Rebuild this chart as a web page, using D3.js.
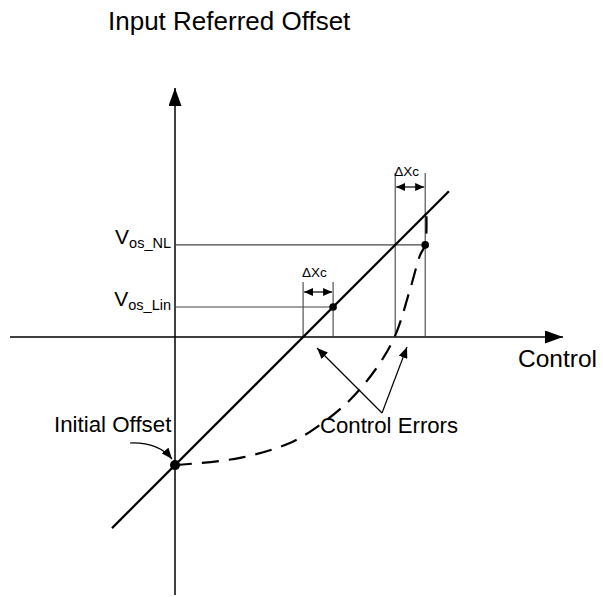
<!DOCTYPE html>
<html>
<head>
<meta charset="utf-8">
<script src="https://cdn.jsdelivr.net/npm/d3@7"></script>
<style>
  html, body { margin: 0; padding: 0; background: #fff; }
  svg { display: block; }
  text { font-family: "Liberation Sans", Arial, sans-serif; fill: #000; }
</style>
</head>
<body>
<svg id="chart" width="603" height="597"></svg>
<script>
// Offset vs. control: linear transfer line and nonlinear (dashed) transfer curve.
const xDomain = [-5.5, 13];          // control axis extent (units of ΔXc)
const yDomain = [-8.6, 8.3];         // offset axis extent

const initialOffset = -4.27;         // offset at zero control
const linearSlope = 1.0;
const linearRange = [-2.1, 9.13];    // drawn extent of the linear line

const deltaXc = 1.0;                 // control error
const vosLin = 1.0;                  // offset reached by linear line after ΔXc
const vosNL = 3.07;                  // offset of nonlinear curve

// Nonlinear transfer curve (control, offset)
const nonlinearCurve = [
  [0.00, -4.27], [2.17, -4.03], [3.83, -3.53], [4.83, -2.93],
  [5.83, -2.10], [6.67, -1.10], [7.32, 0.00], [7.83, 1.57],
  [8.17, 2.73], [8.34, 3.07], [8.38, 4.10]
];

const labels = {
  yAxis: "Input Referred Offset",
  xAxis: "Control",
  initial: "Initial Offset",
  errors: "Control Errors",
  delta: "ΔXc"
};

const svg = d3.select("#chart");
const x = d3.scaleLinear().domain(xDomain).range([10, 565]);
const y = d3.scaleLinear().domain(yDomain).range([595, 88]);

const lin = u => initialOffset + linearSlope * u;
const linInv = v => (v - initialOffset) / linearSlope;

// Arrowhead markers
const defs = svg.append("defs");
function marker(id, len, half) {
  defs.append("marker")
    .attr("id", id)
    .attr("viewBox", `0 ${-half} ${len} ${2 * half}`)
    .attr("refX", len).attr("refY", 0)
    .attr("markerWidth", len).attr("markerHeight", 2 * half)
    .attr("markerUnits", "userSpaceOnUse")
    .attr("orient", "auto-start-reverse")
    .append("path")
    .attr("d", `M0,${-half}L${len},0L0,${half}Z`)
    .attr("fill", "#000");
}
marker("axisHead", 18, 6.5);
marker("smallHead", 11, 4.5);
marker("deltaHead", 9, 4);

// Axes
svg.append("line")
  .attr("x1", x(0)).attr("x2", x(0))
  .attr("y1", y(yDomain[0])).attr("y2", y(yDomain[1]))
  .attr("stroke", "#000").attr("stroke-width", 1.5)
  .attr("marker-end", "url(#axisHead)");
svg.append("line")
  .attr("x1", x(xDomain[0])).attr("x2", x(xDomain[1]) - 2)
  .attr("y1", y(0)).attr("y2", y(0))
  .attr("stroke", "#000").attr("stroke-width", 1.5)
  .attr("marker-end", "url(#axisHead)");

// Reference lines
const xLinZero = linInv(0);
const xLinPt = xLinZero + deltaXc;
const xNLLin = linInv(vosNL);
const xNLPt = xNLLin + deltaXc;

const guides = [
  [0, vosNL, xNLPt, vosNL],
  [0, vosLin, xLinPt, vosLin],
  [xLinZero, 0, xLinZero, 1.83],
  [xLinPt, 0, xLinPt, 1.83],
  [xNLLin, 0, xNLLin, 5.47],
  [xNLPt, 0, xNLPt, 5.47]
];
svg.append("g").selectAll("line").data(guides).join("line")
  .attr("x1", d => x(d[0])).attr("y1", d => y(d[1]))
  .attr("x2", d => x(d[2])).attr("y2", d => y(d[3]))
  .attr("stroke", "#444").attr("stroke-width", 1.1);

// ΔXc double arrows
const deltaArrows = [
  { x0: xLinZero, x1: xLinPt, v: 1.5, tv: 2.0 },
  { x0: xNLLin, x1: xNLPt, v: 5.0, tv: 5.37 }
];
deltaArrows.forEach(a => {
  svg.append("line")
    .attr("x1", x(a.x0) + 1).attr("x2", x(a.x1) - 1)
    .attr("y1", y(a.v)).attr("y2", y(a.v))
    .attr("stroke", "#000").attr("stroke-width", 1.2)
    .attr("marker-start", "url(#deltaHead)")
    .attr("marker-end", "url(#deltaHead)");
  svg.append("text")
    .attr("x", x(a.x0) - 1).attr("y", y(a.tv))
    .attr("font-size", 13.5)
    .text(labels.delta);
});

// Linear transfer line
svg.append("line")
  .attr("x1", x(linearRange[0])).attr("y1", y(lin(linearRange[0])))
  .attr("x2", x(linearRange[1])).attr("y2", y(lin(linearRange[1])))
  .attr("stroke", "#000").attr("stroke-width", 2.2);

// Nonlinear transfer curve (dashed)
svg.append("path")
  .datum(nonlinearCurve)
  .attr("d", d3.line().x(d => x(d[0])).y(d => y(d[1])).curve(d3.curveCatmullRom.alpha(0.5)))
  .attr("fill", "none").attr("stroke", "#000")
  .attr("stroke-width", 2.2).attr("stroke-dasharray", "17,10");

// Points
const points = [[0, initialOffset], [xLinPt, vosLin], [xNLPt, vosNL]];
svg.append("g").selectAll("circle").data(points).join("circle")
  .attr("cx", d => x(d[0])).attr("cy", d => y(d[1]))
  .attr("r", (d, i) => i === 0 ? 5 : 3.8)
  .attr("fill", "#000");

// Axis titles
svg.append("text").attr("x", 108).attr("y", 30)
  .attr("font-size", 26).text(labels.yAxis);
svg.append("text").attr("x", 518).attr("y", 367)
  .attr("font-size", 24.5).text(labels.xAxis);

// Offset labels with subscripts
function vLabel(sub, v) {
  const t = svg.append("text")
    .attr("x", 171).attr("y", y(v) - 1)
    .attr("text-anchor", "end");
  t.append("tspan").attr("font-size", 21).text("V");
  t.append("tspan").attr("font-size", 14.5).attr("dy", 4).text(sub);
}
vLabel("os_NL", vosNL);
vLabel("os_Lin", vosLin);

// Annotations
svg.append("text").attr("x", 54).attr("y", 432)
  .attr("font-size", 22.3).text(labels.initial);
svg.append("path")
  .attr("d", `M130,443 Q158,442 172,459`)
  .attr("fill", "none").attr("stroke", "#000").attr("stroke-width", 1.2)
  .attr("marker-end", "url(#smallHead)");

svg.append("text").attr("x", 320).attr("y", 433)
  .attr("font-size", 22.2).text(labels.errors);
const apex = [382, 413];
[[317, 348], [407, 347]].forEach(tip => {
  svg.append("line")
    .attr("x1", apex[0]).attr("y1", apex[1])
    .attr("x2", tip[0]).attr("y2", tip[1])
    .attr("stroke", "#000").attr("stroke-width", 1.2)
    .attr("marker-end", "url(#smallHead)");
});
</script>
</body>
</html>
